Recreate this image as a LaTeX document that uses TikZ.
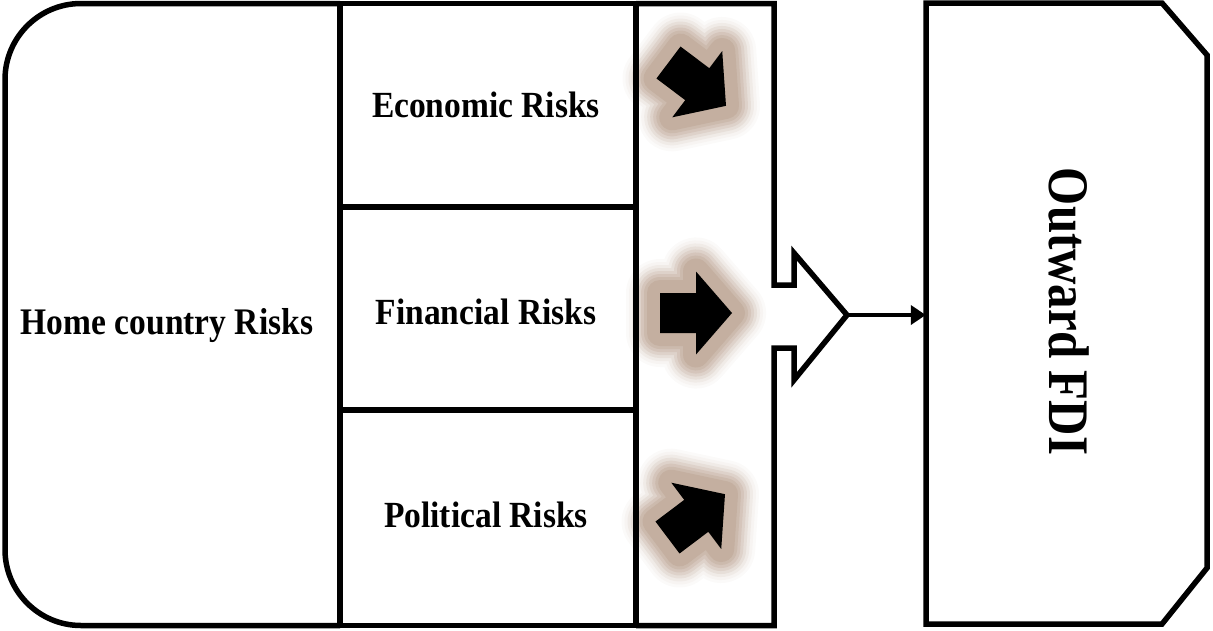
\documentclass[tikz,border=0pt]{standalone}
\usepackage{fontspec}
\setmainfont{Liberation Serif}
\usepackage{graphicx}
\usetikzlibrary{arrows.meta}
\definecolor{glowc}{RGB}{196,175,160}
\newcommand{\fatpath}{(0,-20) -- (36,-20) -- (36,-41.5) -- (72,0) -- (36,41.5) -- (36,20) -- (0,20) -- cycle}
\tikzset{
  border/.style={line width=5.5pt, line join=miter},
  lbl/.style={font=\fontsize{33.5}{40}\selectfont\bfseries, inner sep=0pt},
  riskbox/.style={draw, border, minimum width=296pt, inner sep=0pt},
  conn/.style={line width=4pt, -{Triangle[length=15pt,width=19pt]}},
  glowline/.style={line join=round, line cap=round},
  fatarrow/.pic={
    \path[glowline, draw=glowc!6!white, line width=68pt] \fatpath;
    \path[glowline, draw=glowc!14!white, line width=62pt] \fatpath;
    \path[glowline, draw=glowc!25!white, line width=56pt] \fatpath;
    \path[glowline, draw=glowc!40!white, line width=50pt] \fatpath;
    \path[glowline, draw=glowc!56!white, line width=44pt] \fatpath;
    \path[glowline, draw=glowc!72!white, line width=38pt] \fatpath;
    \path[glowline, draw=glowc!86!white, line width=32pt] \fatpath;
    \path[glowline, draw=glowc, line width=26pt] \fatpath;
    \path[fill=black] \fatpath;
  }
}
\begin{document}
\begin{tikzpicture}[x=1pt,y=-1pt]
\useasboundingbox (0,0) rectangle (1213,630);
% left rounded region
\draw[border, rounded corners=76pt] (340,3.5) -- (5,3.5) -- (5,625.5) -- (340,625.5);
\node[lbl, anchor=base] (home) at (167,334) {\scalebox{1}[1.12]{Home country Risks}};
% three risk boxes
\node[riskbox, minimum height=203.5pt] (econbox) at (488,105.25) {};
\node[riskbox, minimum height=203pt] (finbox) at (488,308.5) {};
\node[riskbox, minimum height=215.5pt] (polbox) at (488,517.75) {};
% fat arrows with glow
\pic[rotate=-37] at (668.5,62.5) {fatarrow};
\pic at (660,313) {fatarrow};
\pic[rotate=37] at (667.5,537.5) {fatarrow};
\node[lbl, anchor=base] (econ) at (486,117) {\scalebox{1}[1.1]{Economic Risks}};
\node[lbl, anchor=base] (fin) at (486,324) {\scalebox{1}[1.1]{Financial Risks}};
\node[lbl, anchor=base] (pol) at (486,527) {\scalebox{1}[1.1]{Political Risks}};
% arrow column with notch
\draw[border] (636,3.5) -- (774,3.5) -- (774,285) -- (794,285) -- (794,253) -- (847,315)
  -- (794,380) -- (794,348) -- (774,348) -- (774,625.5) -- (636,625.5);
\draw[border] (636,3.5) -- (636,625.5);
\coordinate (tip) at (847,315);
% outward FDI box
\node[minimum width=281pt, minimum height=621pt, inner sep=0pt] (fdi) at (1066.5,313.5) {};
\draw[border] (1162,3) -- (926,3) -- (926,624) -- (1162,624) -- (1207,568) -- (1207,55) -- cycle;
\node[lbl, font=\fontsize{49}{56}\selectfont\bfseries, rotate=-90] (fditext) at (1069.5,311.5) {\scalebox{1}[1.17]{Outward FDI}};
\draw[conn] (tip) -- (tip -| fdi.west);
\end{tikzpicture}
\end{document}
